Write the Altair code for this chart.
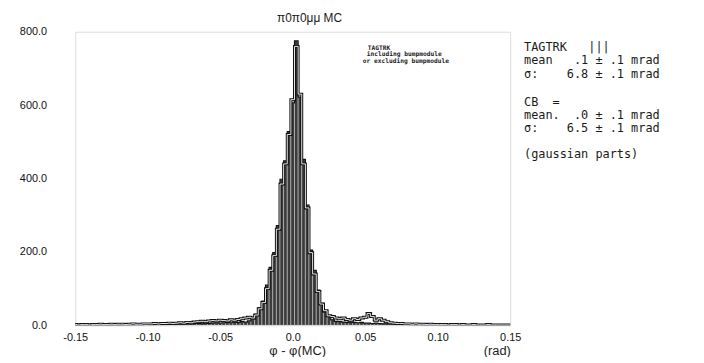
import altair as alt
import pandas as pd

# bin centres: -0.15 .. 0.15 in steps of 0.0025 (121 bins)
bin_width = 0.0025
x_start = -0.15

# TAGTRK (vertically hatched histogram)
tagtrk = [1,1,2,1,1,2,1,2,2,1,2,2,1,2,3,2,2,3,2,3,
          3,2,3,3,4,3,3,4,4,3,4,5,4,5,5,4,6,5,6,7,
          6,7,8,7,9,8,10,9,
          12,18,30,48,66,110,158,198,272,398,448,528,606,775,622,452,328,205,150,96,60,36,24,15,11,
          10,9,8,9,8,7,8,6,
          6,5,6,5,4,4,5,4,3,4,3,3,3,2,3,2,2,3,2,2,
          2,1,2,2,1,2,1,1,2,1,1,2,1,1,1,2,1,1,1,1]

# CB (double-line outline histogram)
cb = [2,1,2,2,1,2,2,3,2,2,3,2,3,3,2,3,4,3,3,4,
      4,4,5,4,5,5,6,5,6,7,6,8,7,9,10,11,10,12,13,12,
      14,13,12,15,14,16,18,20,
      22,20,28,45,62,100,150,190,262,385,440,520,615,760,630,440,320,198,140,92,58,40,26,24,20,
      18,20,16,14,18,16,20,22,
      32,24,14,18,14,10,7,6,5,5,4,4,3,4,3,3,2,3,2,2,
      2,2,1,2,2,1,2,1,1,2,1,1,1,2,1,1,1,1,1,1]

x_ticks = [-0.15, -0.10, -0.05, 0.0, 0.05, 0.10, 0.15]
y_ticks = [0, 200, 400, 600, 800]

centers = [round(x_start + bin_width * i, 5) for i in range(len(tagtrk))]

def bars_df(vals):
    return pd.DataFrame({"lo": [c - bin_width / 2 for c in centers],
                         "hi": [c + bin_width / 2 for c in centers],
                         "v": vals, "zero": 0})

def step_df(vals):
    rows = []
    k = 0
    for c, v in zip(centers, vals):
        rows.append({"x": c - bin_width / 2, "v": v, "o": k}); k += 1
        rows.append({"x": c + bin_width / 2, "v": v, "o": k}); k += 1
    return pd.DataFrame(rows)

W, H = 440, 297
xscale = alt.Scale(domain=[-0.15, 0.15], nice=False, zero=False)
yscale = alt.Scale(domain=[0, 800], nice=False)

xaxis = alt.Axis(values=x_ticks, ticks=False, domain=False, grid=False, title=None,
                 labelExpr="datum.value == 0 ? '0.0' : (datum.value < 0 ? '-' + format(-datum.value, '.2f') : format(datum.value, '.2f'))",
                 labelFontSize=11, labelPadding=6, labelFlush=False, labelColor="#111",
                 labelFont="Liberation Sans")
yaxis = alt.Axis(values=y_ticks, ticks=False, domain=False, grid=False, title=None,
                 labelExpr="format(datum.value, '.1f')", labelFontSize=11, labelPadding=29,
                 labelColor="#111", labelFont="Liberation Sans")

hatched = alt.Chart(bars_df(tagtrk)).mark_rect(
    fill="#3c3c3c", stroke="#d8d8d8", strokeWidth=0.5, clip=True
).encode(
    x=alt.X("lo:Q", scale=xscale, axis=xaxis), x2="hi:Q",
    y=alt.Y("v:Q", scale=yscale, axis=yaxis), y2="zero:Q",
)

tag_outline = alt.Chart(step_df(tagtrk)).mark_line(
    color="#111", strokeWidth=1.2, clip=True
).encode(x=alt.X("x:Q", scale=xscale), y=alt.Y("v:Q", scale=yscale), order="o:Q")

cb_outer = alt.Chart(step_df(cb)).mark_line(
    color="#111", strokeWidth=3.0, clip=True
).encode(x=alt.X("x:Q", scale=xscale), y=alt.Y("v:Q", scale=yscale), order="o:Q")

cb_inner = alt.Chart(step_df(cb)).mark_line(
    color="white", strokeWidth=0.9, clip=True
).encode(x=alt.X("x:Q", scale=xscale), y=alt.Y("v:Q", scale=yscale), order="o:Q")

dummy = pd.DataFrame({"a": [0]})
NB = "\u00a0"

def txt(text, x, y, size=11, font="Liberation Sans", align="left", weight="normal", color="#1a1a1a"):
    return alt.Chart(dummy).mark_text(
        text=text.replace(" ", NB), align=align, baseline="middle", fontSize=size, font=font,
        fontWeight=weight, color=color
    ).encode(x=alt.value(x), y=alt.value(y))

mono = "DejaVu Sans Mono"
fs = 12
texts = [
    txt("π0π0μμ MC", 237, -14, size=12, align="center"),
    txt("TAGTRK", 296, 16.5, size=6.3, font=mono, weight="bold"),
    txt("including bumpmodule", 295, 23, size=6.3, font=mono, weight="bold"),
    txt("or excluding bumpmodule", 291, 29.5, size=6.3, font=mono, weight="bold"),
    txt("TAGTRK   |||", 454, 15, size=fs, font=mono),
    txt("mean   .1 ± .1 mrad", 454, 29, size=fs, font=mono),
    txt("σ:    6.8 ± .1 mrad", 454, 42.5, size=fs, font=mono),
    txt("CB  =", 454, 71, size=fs, font=mono),
    txt("mean.  .0 ± .1 mrad", 454, 84, size=fs, font=mono),
    txt("σ:    6.5 ± .1 mrad", 454, 97.5, size=fs, font=mono),
    txt("(gaussian parts)", 454, 124, size=fs, font=mono),
    txt("φ - φ(MC)", 225, 323, size=13, align="center"),
    txt("(rad)", 427, 323, size=13, align="center"),
]

chart = alt.layer(hatched, tag_outline, cb_outer, cb_inner, *texts).properties(
    width=W, height=H,
    autosize=alt.AutoSizeParams(type="none"),
    padding={"left": 68, "top": 22, "right": 188, "bottom": 30},
).configure_view(
    stroke="#111", strokeWidth=1.6
).configure(background="white")

chart.save("out.html", embed_options={"renderer": "svg", "actions": False})
